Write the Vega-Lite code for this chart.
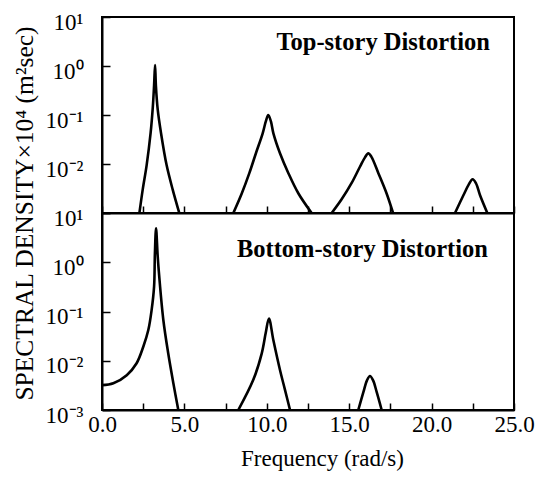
{
  "$schema": "https://vega.github.io/schema/vega-lite/v6.json",
  "background": "white",
  "padding": {"left": 10, "top": 10, "right": 5, "bottom": 5},
  "spacing": 0,
  "bounds": "flush",
  "config": {
    "view": {"stroke": "black", "strokeWidth": 2},
    "font": "Liberation Serif",
    "axis": {
      "labelFont": "Liberation Serif", "titleFont": "Liberation Serif",
      "labelFontSize": 23, "titleFontSize": 23,
      "labelColor": "black", "titleColor": "black",
      "domainColor": "black", "tickColor": "black",
      "domainWidth": 2, "tickWidth": 1.5, "grid": false,
      "titleFontWeight": "normal"
    }
  },
  "datasets": {
    "top": [
      {"seg": "a", "f": 2.27, "v": 0.001},
      {"seg": "a", "f": 2.47, "v": 0.003},
      {"seg": "a", "f": 2.71, "v": 0.0095},
      {"seg": "a", "f": 2.95, "v": 0.043},
      {"seg": "a", "f": 3.08, "v": 0.14},
      {"seg": "a", "f": 3.16, "v": 0.4},
      {"seg": "a", "f": 3.22, "v": 1.05},
      {"seg": "a", "f": 3.27, "v": 0.4},
      {"seg": "a", "f": 3.38, "v": 0.13},
      {"seg": "a", "f": 3.58, "v": 0.043},
      {"seg": "a", "f": 3.92, "v": 0.0095},
      {"seg": "a", "f": 4.29, "v": 0.003},
      {"seg": "a", "f": 4.69, "v": 0.001},
      {"seg": "b", "f": 7.97, "v": 0.001},
      {"seg": "b", "f": 8.48, "v": 0.0025},
      {"seg": "b", "f": 8.94, "v": 0.0065},
      {"seg": "b", "f": 9.34, "v": 0.0166},
      {"seg": "b", "f": 9.75, "v": 0.0423},
      {"seg": "b", "f": 9.94, "v": 0.074},
      {"seg": "b", "f": 10.09, "v": 0.1},
      {"seg": "b", "f": 10.25, "v": 0.074},
      {"seg": "b", "f": 10.40, "v": 0.0423},
      {"seg": "b", "f": 10.80, "v": 0.0166},
      {"seg": "b", "f": 11.31, "v": 0.0065},
      {"seg": "b", "f": 11.92, "v": 0.0025},
      {"seg": "b", "f": 12.72, "v": 0.001},
      {"seg": "c", "f": 13.94, "v": 0.001},
      {"seg": "c", "f": 14.54, "v": 0.0019},
      {"seg": "c", "f": 15.15, "v": 0.0041},
      {"seg": "c", "f": 15.66, "v": 0.0089},
      {"seg": "c", "f": 15.95, "v": 0.0135},
      {"seg": "c", "f": 16.16, "v": 0.0165},
      {"seg": "c", "f": 16.35, "v": 0.014},
      {"seg": "c", "f": 16.77, "v": 0.0065},
      {"seg": "c", "f": 17.27, "v": 0.0025},
      {"seg": "c", "f": 17.66, "v": 0.001},
      {"seg": "d", "f": 21.42, "v": 0.001},
      {"seg": "d", "f": 21.93, "v": 0.0023},
      {"seg": "d", "f": 22.25, "v": 0.0038},
      {"seg": "d", "f": 22.49, "v": 0.0049},
      {"seg": "d", "f": 22.70, "v": 0.004},
      {"seg": "d", "f": 22.94, "v": 0.0023},
      {"seg": "d", "f": 23.38, "v": 0.001}
    ],
    "bottom": [
      {"seg": "a", "f": 0.0, "v": 0.0032},
      {"seg": "a", "f": 0.69, "v": 0.0035},
      {"seg": "a", "f": 1.50, "v": 0.0051},
      {"seg": "a", "f": 2.10, "v": 0.0089},
      {"seg": "a", "f": 2.51, "v": 0.0195},
      {"seg": "a", "f": 2.81, "v": 0.042},
      {"seg": "a", "f": 3.01, "v": 0.107},
      {"seg": "a", "f": 3.16, "v": 0.32},
      {"seg": "a", "f": 3.21, "v": 1.5},
      {"seg": "a", "f": 3.28, "v": 4.9},
      {"seg": "a", "f": 3.37, "v": 1.5},
      {"seg": "a", "f": 3.44, "v": 0.7},
      {"seg": "a", "f": 3.72, "v": 0.068},
      {"seg": "a", "f": 4.02, "v": 0.014},
      {"seg": "a", "f": 4.33, "v": 0.0035},
      {"seg": "a", "f": 4.63, "v": 0.001},
      {"seg": "b", "f": 8.27, "v": 0.001},
      {"seg": "b", "f": 9.18, "v": 0.0041},
      {"seg": "b", "f": 9.69, "v": 0.014},
      {"seg": "b", "f": 9.93, "v": 0.036},
      {"seg": "b", "f": 10.13, "v": 0.072},
      {"seg": "b", "f": 10.40, "v": 0.026},
      {"seg": "b", "f": 10.80, "v": 0.0065},
      {"seg": "b", "f": 11.10, "v": 0.0026},
      {"seg": "b", "f": 11.41, "v": 0.001},
      {"seg": "c", "f": 15.55, "v": 0.001},
      {"seg": "c", "f": 15.86, "v": 0.0023},
      {"seg": "c", "f": 16.08, "v": 0.004},
      {"seg": "c", "f": 16.26, "v": 0.0049},
      {"seg": "c", "f": 16.45, "v": 0.004},
      {"seg": "c", "f": 16.67, "v": 0.0023},
      {"seg": "c", "f": 16.97, "v": 0.001}
    ]
  },
  "vconcat": [
    {
      "width": 412, "height": 196,
      "layer": [
        {
          "data": {"name": "top"},
          "mark": {"type": "line", "color": "black", "strokeWidth": 2.6, "interpolate": "catmull-rom", "clip": true},
          "encoding": {
            "x": {"field": "f", "type": "quantitative", "scale": {"domain": [0, 25], "nice": false},
              "axis": {"values": [0, 2.5, 5, 7.5, 10, 12.5, 15, 17.5, 20, 22.5, 25], "labels": false, "title": null, "tickSize": -7}},
            "y": {"field": "v", "type": "quantitative", "scale": {"type": "log", "domain": [0.001, 10], "nice": false},
              "axis": {"values": [0.001, 0.01, 0.1, 1, 10], "title": null, "tickSize": -8, "labelPadding": 27, "labelOffset": 5,
                "labelExpr": "datum.value > 5 ? '10¹' : datum.value > 0.5 ? '10⁰' : datum.value > 0.05 ? '10⁻¹' : datum.value > 0.005 ? '10⁻²' : ''"}},
            "detail": {"field": "seg"}
          }
        },
        {
          "data": {"values": [{"note": "Top-story Distortion"}]},
          "mark": {"type": "text", "align": "right", "baseline": "middle", "font": "Liberation Serif", "fontSize": 24.5, "fontWeight": "bold", "color": "black"},
          "encoding": {"x": {"datum": 23.54}, "y": {"datum": 2.94}, "text": {"field": "note"}}
        }
      ]
    },
    {
      "width": 412, "height": 197,
      "layer": [
        {
          "data": {"name": "bottom"},
          "mark": {"type": "line", "color": "black", "strokeWidth": 2.6, "interpolate": "catmull-rom", "clip": true},
          "encoding": {
            "x": {"field": "f", "type": "quantitative", "scale": {"domain": [0, 25], "nice": false},
              "axis": {"values": [0, 2.5, 5, 7.5, 10, 12.5, 15, 17.5, 20, 22.5, 25], "tickSize": -7, "labelPadding": 10, "labelFlush": false, "labelOverlap": false,
                "labelExpr": "datum.value % 5 == 0 ? format(datum.value, '.1f') : ''",
                "title": "Frequency (rad/s)", "titleX": 220, "titleY": 55, "titleBaseline": "alphabetic", "titleAlign": "center"}},
            "y": {"field": "v", "type": "quantitative", "scale": {"type": "log", "domain": [0.001, 10], "nice": false},
              "axis": {"values": [0.001, 0.01, 0.1, 1, 10], "tickSize": -8, "labelPadding": 27, "labelOffset": 5,
                "labelExpr": "datum.value > 5 ? '10¹' : datum.value > 0.5 ? '10⁰' : datum.value > 0.05 ? '10⁻¹' : datum.value > 0.005 ? '10⁻²' : '10⁻³'",
                "title": "SPECTRAL DENSITY×10⁴ (m²sec)", "titleFontSize": 25.5, "titleX": -70, "titleY": 0, "titleAngle": -90, "titleBaseline": "alphabetic", "titleAlign": "center"}},
            "detail": {"field": "seg"}
          }
        },
        {
          "data": {"values": [{"note": "Bottom-story Distortion"}]},
          "mark": {"type": "text", "align": "right", "baseline": "middle", "font": "Liberation Serif", "fontSize": 24.5, "fontWeight": "bold", "color": "black"},
          "encoding": {"x": {"datum": 23.42}, "y": {"datum": 1.77}, "text": {"field": "note"}}
        }
      ]
    }
  ]
}
